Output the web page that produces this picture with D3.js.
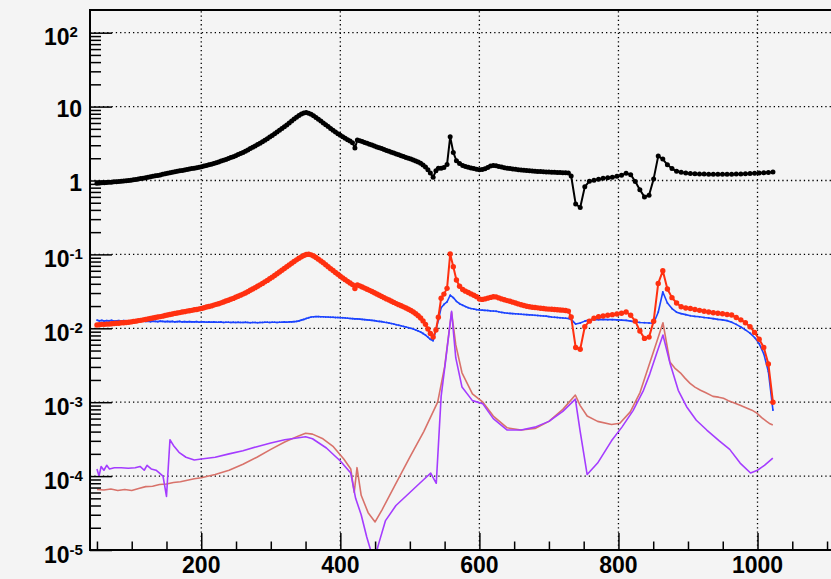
<!DOCTYPE html>
<html><head><meta charset="utf-8">
<script src="https://cdn.jsdelivr.net/npm/d3@7"></script>
<style>
html,body{margin:0;padding:0;background:#f4f4f4;}
svg{display:block;}
text{font-family:"Liberation Sans",Arial,Helvetica,sans-serif;font-weight:bold;fill:#000;}
</style></head><body>
<svg id="chart" width="831" height="579"></svg>
<script>
// Frequency sample points shared by the black, red and blue curves
const freq = [
  50,53.5,57,60.5,64,67.5,71,74.5,78,81.5,
  85,88.5,92,95.5,99,102.5,106,109.5,113,116.5,
  120,123.5,127,130.5,134,137.5,141,144.5,148,151.5,
  155,158.5,162,165.5,169,172.5,176,179.5,183,186.5,
  190,193.5,197,200.5,204,207.5,211,214.5,218,221.5,
  225,228.5,232,235.5,239,242.5,246,249.5,253,256.5,
  260,263.5,267,270.5,274,277.5,281,284.5,288,291.5,
  295,298.5,302,305.5,309,312.5,316,319.5,323,326.5,
  330,333.5,337,340.5,344,347.5,351,354.5,358,361.5,
  365,368.5,372,375.5,379,382.5,386,389.5,393,396.5,
  400,403.5,407,410.5,414,417.5,421,424.5,428,431.5,
  435,438.5,442,445.5,449,452.5,456,459.5,463,466.5,
  470,473.5,477,480.5,484,487.5,491,494.5,498,501.5,
  505,508.5,512,515.5,519,522.5,526,529.5,
  533.5,537.5,541,545,549,553.5,558,562.5,567,571.5,576,
  580,584,588,592,596,600,604,608,612,616,
  620,624,628,632,636,640,644,648,652,656,
  660,664,668,672,676,680,684,688,692,696,
  700,704,708,712,716,720,724,728,732,
  738.5,745,
  751.6,758.2,764.8,771.4,778,784.6,791.2,797.8,804.4,811,
  817.6,824.2,830.8,837.4,844,850.6,857.2,863.8,870.4,877,
  883.6,890.2,896.8,903.4,910,916.6,923.2,929.8,936.4,943,
  949.6,956.2,962.8,969.4,976,982.6,989.2,995.8,1002.4,1009,
  1015.6,1022.2
];

const blackVals = [
  0.92,0.925,0.93,0.935,0.94,0.945,0.95,0.96,0.965,0.97,
  0.98,0.985,0.995,1.0,1.01,1.025,1.035,1.05,1.06,1.075,
  1.09,1.105,1.12,1.14,1.155,1.17,1.19,1.21,1.23,1.25,
  1.27,1.29,1.31,1.33,1.35,1.37,1.39,1.41,1.43,1.45,
  1.47,1.49,1.51,1.54,1.57,1.6,1.63,1.66,1.7,1.74,
  1.78,1.83,1.88,1.93,1.98,2.04,2.1,2.17,2.24,2.32,
  2.4,2.49,2.59,2.7,2.81,2.93,3.06,3.2,3.35,3.51,
  3.68,3.87,4.07,4.29,4.52,4.77,5.04,5.33,5.63,5.98,
  6.4,6.8,7.2,7.6,7.95,8.2,8.3,8.15,7.85,7.5,
  7.12,6.75,6.38,6.02,5.68,5.36,5.06,4.78,4.52,4.28,
  4.1,3.92,3.74,3.57,3.42,3.25,2.75,3.52,3.45,3.36,
  3.27,3.18,3.09,3.01,2.93,2.85,2.77,2.7,2.62,2.55,
  2.49,2.42,2.35,2.29,2.23,2.17,2.11,2.05,2.0,1.95,
  1.89,1.84,1.78,1.71,1.62,1.52,1.4,1.26,
  1.11,1.35,1.46,1.47,1.5,1.65,3.9,2.4,1.85,1.7,1.6,
  1.55,1.51,1.48,1.45,1.42,1.4,1.41,1.44,1.5,1.57,
  1.6,1.58,1.55,1.52,1.49,1.47,1.45,1.43,1.42,1.4,
  1.39,1.38,1.36,1.35,1.34,1.33,1.32,1.32,1.31,1.3,
  1.3,1.29,1.29,1.28,1.28,1.27,1.27,1.26,1.15,
  0.48,0.43,
  0.82,0.98,1.01,1.04,1.07,1.09,1.11,1.14,1.18,1.25,
  1.2,0.97,0.75,0.6,0.63,1.05,2.14,1.95,1.63,1.45,
  1.33,1.29,1.26,1.24,1.23,1.22,1.22,1.21,1.21,1.21,
  1.21,1.21,1.21,1.22,1.22,1.23,1.24,1.25,1.26,1.27,
  1.28,1.3
];

const redVals = [
  0.0111,0.0112,0.0113,0.0113,0.0114,0.0114,0.0115,0.0116,0.0117,0.0117,
  0.0119,0.0119,0.012,0.0121,0.0122,0.0124,0.0125,0.0127,0.0128,0.013,
  0.0132,0.0134,0.0136,0.0138,0.014,0.0142,0.0144,0.0146,0.0149,0.0151,
  0.0154,0.0156,0.0159,0.0161,0.0163,0.0166,0.0168,0.0171,0.0173,0.0175,
  0.0178,0.018,0.0183,0.0186,0.019,0.0194,0.0197,0.0201,0.0206,0.0211,
  0.0215,0.0221,0.0227,0.0234,0.024,0.0247,0.0254,0.0263,0.0271,0.0281,
  0.029,0.0301,0.0313,0.0327,0.034,0.0355,0.037,0.0387,0.0405,0.0425,
  0.0445,0.0468,0.0492,0.0519,0.0547,0.0577,0.061,0.0645,0.0681,0.072,
  0.076,0.0801,0.0843,0.0886,0.0927,0.0964,0.0995,0.1004,0.0986,0.095,
  0.0907,0.0862,0.0815,0.0769,0.0724,0.068,0.0641,0.0604,0.057,0.0538,
  0.0508,0.048,0.0455,0.0432,0.041,0.039,0.0345,0.0385,0.0375,0.0362,
  0.035,0.0338,0.0326,0.0314,0.0302,0.0291,0.028,0.027,0.026,0.025,
  0.0241,0.0232,0.0224,0.0216,0.0209,0.0202,0.0195,0.0188,0.0181,0.0174,
  0.0166,0.0157,0.0148,0.0138,0.0126,0.0113,0.0098,0.0085,
  0.0076,0.0095,0.0141,0.0255,0.029,0.0347,0.101,0.068,0.045,0.037,0.0335,
  0.0318,0.0305,0.0292,0.028,0.0268,0.0249,0.0246,0.025,0.0256,0.0262,
  0.0267,0.0266,0.0258,0.025,0.0243,0.0237,0.0232,0.0226,0.022,0.0214,
  0.0208,0.0203,0.0199,0.0196,0.0193,0.0191,0.0189,0.0187,0.0185,0.0183,
  0.0182,0.0181,0.018,0.0178,0.0177,0.0176,0.0174,0.0171,0.0142,
  0.0055,0.0052,
  0.0105,0.0125,0.0137,0.0143,0.0147,0.015,0.0153,0.0156,0.016,0.0166,
  0.015,0.0125,0.0092,0.0073,0.0076,0.0125,0.0405,0.06,0.034,0.026,
  0.022,0.0196,0.0188,0.0185,0.018,0.0175,0.017,0.0166,0.0162,0.016,
  0.0157,0.0154,0.0151,0.014,0.013,0.0119,0.0105,0.0088,0.0071,0.0055,
  0.0033,0.001
];

const blueVals = [
  0.0129,0.0126,0.0128,0.0125,0.0127,0.0126,0.0128,0.0125,0.0126,0.0127,
  0.0125,0.0127,0.0126,0.0124,0.0126,0.0125,0.0126,0.0124,0.0125,0.0126,
  0.0124,0.0125,0.0123,0.0125,0.0124,0.0123,0.0125,0.0124,0.0123,0.0124,
  0.0123,0.0124,0.0122,0.0123,0.0124,0.0122,0.0123,0.0122,0.0123,0.0122,
  0.0122,0.0123,0.0121,0.0122,0.0122,0.0121,0.0122,0.0121,0.0122,0.0121,
  0.0121,0.0122,0.012,0.0121,0.0121,0.012,0.0121,0.012,0.0121,0.012,
  0.012,0.0121,0.012,0.0119,0.012,0.012,0.0119,0.012,0.012,0.0121,
  0.0121,0.012,0.0121,0.0121,0.012,0.0121,0.0121,0.0122,0.0121,0.0122,
  0.0122,0.0123,0.0124,0.0126,0.0129,0.0132,0.0136,0.0139,0.0142,0.0143,
  0.0144,0.0144,0.0143,0.0143,0.0142,0.0142,0.0141,0.0141,0.014,0.014,
  0.0139,0.0139,0.0138,0.0137,0.0136,0.0135,0.0134,0.0134,0.0133,0.0132,
  0.0131,0.013,0.0129,0.0128,0.0127,0.0125,0.0124,0.0123,0.0121,0.012,
  0.0118,0.0116,0.0114,0.0112,0.011,0.0108,0.0106,0.0104,0.0102,0.01,
  0.0098,0.0095,0.0092,0.0089,0.0085,0.0081,0.0076,0.0071,
  0.0068,0.0095,0.0128,0.019,0.021,0.0228,0.028,0.026,0.0232,0.0215,0.0205,
  0.0197,0.019,0.0185,0.0182,0.0179,0.0177,0.0176,0.0175,0.0174,0.0172,
  0.0171,0.017,0.0167,0.0164,0.0162,0.016,0.0159,0.0158,0.0157,0.0156,
  0.0155,0.0154,0.0153,0.0152,0.0151,0.015,0.0149,0.0148,0.0147,0.0146,
  0.0144,0.0142,0.0141,0.014,0.0139,0.0138,0.0137,0.0136,0.0132,
  0.0114,0.0118,
  0.0125,0.013,0.0132,0.0131,0.0132,0.0131,0.0131,0.013,0.0129,0.0128,
  0.0125,0.0122,0.012,0.0119,0.0118,0.0117,0.0165,0.031,0.022,0.0185,
  0.0165,0.0158,0.0153,0.0148,0.0145,0.0143,0.014,0.0138,0.0135,0.0132,
  0.013,0.0127,0.0121,0.0113,0.0104,0.0095,0.0086,0.0075,0.0062,0.0045,
  0.0026,0.00078
];

// Salmon curve
const salmonFreq = [50,60,70,80,90,100,110,120,130,140,150,160,170,180,190,200,220,240,260,280,300,320,340,350,360,375,390,405,415,420,424,430,440,450,460,480,500,520,540,550,560,566,575,590,605,620,640,660,680,700,720,738,745,755,770,790,802,817,831,845,855,864,874,881,889,896,903,910,918,925,936,944,951,958,965,975,985,992,999,1006,1013,1018,1022];
const salmonVals = [6.6e-5,6.5e-5,6.7e-5,6.4e-5,6.6e-5,6.4e-5,6.8e-5,7.2e-5,7.3e-5,7.7e-5,7.8e-5,8.2e-5,8.4e-5,8.8e-5,9.2e-5,9.5e-5,1.05e-4,1.2e-4,1.45e-4,1.8e-4,2.3e-4,2.9e-4,3.5e-4,3.8e-4,3.7e-4,3.2e-4,2.5e-4,1.7e-4,1.25e-4,6e-5,1.3e-4,5.5e-5,3.2e-5,2.4e-5,3.5e-5,8e-5,1.8e-4,4e-4,1e-3,3e-3,0.0165,6e-3,2.5e-3,1.3e-3,1.0e-3,6.5e-4,4.5e-4,4.2e-4,4.4e-4,5.5e-4,8e-4,1.25e-3,9e-4,6.5e-4,5.5e-4,5.0e-4,5.2e-4,7.4e-4,1.35e-3,3.4e-3,6.5e-3,0.0119,3.5e-3,2.9e-3,2.5e-3,2.1e-3,1.8e-3,1.6e-3,1.45e-3,1.35e-3,1.2e-3,1.17e-3,1.13e-3,1.05e-3,9.9e-4,9.1e-4,8.3e-4,7.8e-4,7.1e-4,6.2e-4,5.5e-4,5.1e-4,4.9e-4];

// Purple curve
const purpleFreq = [50,53,56,60,64,68,75,85,95,105,112,118,122,128,135,140,145,150,155,160,168,178,190,200,220,240,260,280,300,320,340,350,360,380,400,415,422,430,438,445,450,455,465,480,500,520,530,538,545,552,560,566,575,590,605,620,640,660,680,700,720,738,745,755,770,790,805,821,836,845,855,864,874,886,898,912,927,945,960,975,990,1000,1010,1022];
const purpleVals = [1.25e-4,1.0e-4,1.35e-4,1.2e-4,1.4e-4,1.25e-4,1.3e-4,1.3e-4,1.28e-4,1.3e-4,1.35e-4,1.2e-4,1.4e-4,1.25e-4,1.2e-4,1.1e-4,1.0e-4,5.3e-5,3.1e-4,2.6e-4,2.1e-4,1.8e-4,1.65e-4,1.7e-4,1.8e-4,2.0e-4,2.2e-4,2.5e-4,2.8e-4,3.1e-4,3.3e-4,3.4e-4,3.2e-4,2.4e-4,1.6e-4,1.1e-4,5e-5,3e-5,1.5e-5,9e-6,8e-6,1.2e-5,2.5e-5,4e-5,6e-5,9e-5,1.1e-4,8e-5,1.2e-3,4e-3,0.017,4e-3,1.6e-3,1.05e-3,9.5e-4,6e-4,4.2e-4,4.2e-4,4.6e-4,5.5e-4,7.5e-4,1.1e-3,4e-4,1.05e-4,1.5e-4,3e-4,4.6e-4,7.7e-4,1.45e-3,2.4e-3,4.6e-3,8.1e-3,3.4e-3,1.45e-3,8.7e-4,5.7e-4,4.2e-4,3e-4,2.3e-4,1.5e-4,1.1e-4,1.2e-4,1.4e-4,1.75e-4];

const xMajor = [200,400,600,800,1000];
const xMinor = [50,100,150,250,300,350,450,500,550,650,700,750,850,900,950,1050,1100];
const yMajor = [1e-5,1e-4,1e-3,1e-2,1e-1,1,10,100];

const W = 831, H = 579;
const L = 90, T = 10, B = 550, R = 834;
const svg = d3.select("#chart");
svg.append("rect").attr("width", W).attr("height", H).attr("fill", "#f4f4f4");

const x = d3.scaleLinear().domain([40, 1110]).range([L, R]);
const y = d3.scaleLog().domain([1e-5, Math.pow(10, 2.307)]).range([B, T]);

// dotted grid at major ticks
const grid = svg.append("g").attr("stroke", "#000").attr("stroke-width", 1.3).attr("stroke-dasharray", "1.3,3");
grid.selectAll("line.gx").data(xMajor).enter().append("line")
  .attr("x1", d => x(d)).attr("x2", d => x(d)).attr("y1", B).attr("y2", T);
grid.selectAll("line.gy").data(yMajor.filter(v => v > 1e-5)).enter().append("line")
  .attr("x1", L).attr("x2", W).attr("y1", d => y(d)).attr("y2", d => y(d));

// curves, clipped to the frame
svg.append("clipPath").attr("id", "plotclip").append("rect")
  .attr("x", L).attr("y", T).attr("width", R - L).attr("height", B - T);
const plot = svg.append("g").attr("clip-path", "url(#plotclip)");
const line = d3.line().x(d => x(d[0])).y(d => y(d[1]));
const zip = (xs, ys) => xs.map((v, i) => [v, ys[i]]);

const series = [
  {xs: salmonFreq, ys: salmonVals, color: "#d8726a", w: 1.6, r: 0},
  {xs: purpleFreq, ys: purpleVals, color: "#a43cff", w: 1.6, r: 0},
  {xs: freq, ys: blueVals, color: "#1c44ff", w: 1.6, r: 0.9},
  {xs: freq, ys: redVals, color: "#ff3010", w: 2, r: 2.7},
  {xs: freq, ys: blackVals, color: "#000000", w: 2, r: 2.5}
];
series.forEach(s => {
  const pts = zip(s.xs, s.ys);
  plot.append("path").datum(pts).attr("fill", "none").attr("stroke", s.color)
    .attr("stroke-width", s.w).attr("stroke-linejoin", "round").attr("d", line);
  if (s.r > 0) {
    plot.append("g").selectAll("circle").data(pts).enter().append("circle")
      .attr("cx", d => x(d[0])).attr("cy", d => y(d[1])).attr("r", s.r).attr("fill", s.color);
  }
});

// axes: ticks drawn inward
const xAxisMajor = d3.axisBottom(x).tickValues(xMajor).tickSizeInner(-17).tickSizeOuter(0).tickFormat("");
const xAxisMinor = d3.axisBottom(x).tickValues(xMinor).tickSizeInner(-8.5).tickSizeOuter(0).tickFormat("");
[xAxisMajor, xAxisMinor].forEach(a => {
  const g = svg.append("g").attr("transform", `translate(0,${B})`).call(a);
  g.select(".domain").remove();
  g.selectAll("line").attr("stroke", "#000").attr("stroke-width", 1.5);
});
const yMinor = [];
yMajor.forEach(v => { if (v < 100) for (let k = 2; k <= 9; k++) yMinor.push(v * k); });
const yAxisMajor = d3.axisLeft(y).tickValues(yMajor).tickSizeInner(-22).tickSizeOuter(0).tickFormat("");
const yAxisMinor = d3.axisLeft(y).tickValues(yMinor.filter(v => v < Math.pow(10, 2.307))).tickSizeInner(-11).tickSizeOuter(0).tickFormat("");
[yAxisMajor, yAxisMinor].forEach(a => {
  const g = svg.append("g").attr("transform", `translate(${L},0)`).call(a);
  g.select(".domain").remove();
  g.selectAll("line").attr("stroke", "#000").attr("stroke-width", 1.5);
});

// frame
svg.append("path").attr("d", `M${W},${T}H${L}V${B}H${W}`).attr("fill", "none")
  .attr("stroke", "#000").attr("stroke-width", 2);

// x labels
svg.selectAll("text.xl").data(xMajor).enter().append("text")
  .attr("x", d => x(d)).attr("y", 573).attr("text-anchor", "middle")
  .attr("font-size", 23).text(d => d);

// y labels: 1, 10 and powers of ten
yMajor.forEach(v => {
  const e = Math.round(Math.log10(v));
  const ty = y(v);
  if (e === 0 || e === 1) {
    svg.append("text").attr("x", 82).attr("y", ty + 10.5).attr("text-anchor", "end")
      .attr("font-size", 23).text(e === 0 ? "1" : "10");
  } else {
    const t = svg.append("text").attr("x", 44).attr("y", ty + 12.5).attr("font-size", 23);
    t.append("tspan").text("10");
    t.append("tspan").attr("font-size", 15).attr("dy", -8).text(String(e));
  }
});
</script>
</body></html>
